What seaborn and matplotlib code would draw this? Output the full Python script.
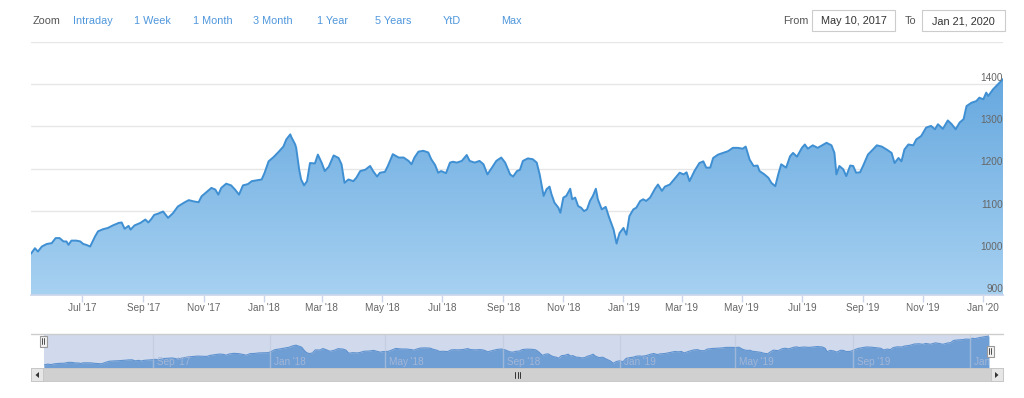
import numpy as np
import pandas as pd
import matplotlib
matplotlib.use("Agg")
import matplotlib.pyplot as plt
import matplotlib.dates as mdates
from matplotlib.patches import Rectangle, Polygon
from matplotlib.colors import LinearSegmentedColormap
import seaborn as sns

# ---------------- data ----------------
START = "2017-05-10"
END = "2020-01-21"

day_offsets = [
    0, 4, 7, 11, 16, 21, 25, 29, 33, 36, 38, 41, 46, 50, 53, 56, 60, 65, 68, 73,
    78, 83, 89, 92, 95, 99, 101, 105, 111, 116, 119, 122, 125, 129, 134, 139, 144, 149, 156, 160,
    165, 170, 173, 178, 183, 187, 190, 193, 198, 203, 207, 211, 215, 220, 224, 229, 234, 237, 241, 246,
    251, 256, 259, 263, 264, 268, 269, 272, 274, 277, 280, 283, 288, 291, 295, 298, 302, 307, 312, 315,
    318, 322, 327, 330, 334, 339, 344, 347, 351, 354, 359, 362, 367, 373, 378, 383, 386, 389, 393, 398,
    403, 406, 410, 413, 416, 421, 425, 428, 432, 437, 442, 445, 450, 455, 459, 463, 467, 472, 477, 481,
    486, 489, 493, 496, 499, 504, 509, 513, 516, 520, 523, 526, 528, 531, 535, 537, 540, 543, 547, 549,
    552, 555, 558, 561, 564, 567, 570, 573, 575, 579, 583, 586, 591, 594, 597, 601, 604, 607, 611, 614,
    618, 621, 624, 628, 633, 636, 640, 643, 648, 653, 658, 662, 665, 668, 673, 678, 682, 685, 689, 692,
    697, 702, 707, 712, 717, 722, 725, 729, 733, 737, 739, 744, 748, 751, 755, 758, 761, 766, 770, 773,
    777, 782, 785, 788, 793, 798, 804, 807, 812, 815, 817, 820, 824, 827, 831, 834, 837, 841, 844, 849,
    854, 858, 863, 868, 873, 876, 880, 883, 886, 890, 895, 898, 903, 908, 913, 917, 920, 925, 930, 934,
    938, 942, 946, 949, 954, 959, 962, 966, 969, 971, 976, 981, 986,
]
values = [
    998, 1011, 1003, 1015, 1021, 1023, 1035, 1035, 1027, 1027, 1019, 1029, 1029, 1027, 1021, 1019, 1015, 1039, 1051, 1056,
    1059, 1065, 1071, 1072, 1057, 1064, 1055, 1065, 1071, 1079, 1072, 1080, 1090, 1093, 1098, 1083, 1094, 1110, 1120, 1125,
    1122, 1120, 1134, 1144, 1154, 1150, 1138, 1154, 1164, 1160, 1150, 1138, 1160, 1163, 1170, 1172, 1174, 1190, 1217, 1227,
    1239, 1252, 1269, 1281, 1275, 1257, 1249, 1198, 1174, 1160, 1170, 1213, 1212, 1233, 1213, 1194, 1204, 1231, 1225, 1210,
    1166, 1174, 1170, 1178, 1194, 1197, 1206, 1194, 1181, 1190, 1192, 1206, 1234, 1226, 1226, 1218, 1210, 1226, 1240, 1242,
    1238, 1222, 1208, 1190, 1194, 1189, 1214, 1216, 1214, 1218, 1232, 1218, 1214, 1218, 1210, 1186, 1200, 1218, 1226, 1214,
    1186, 1181, 1194, 1197, 1218, 1224, 1222, 1214, 1186, 1135, 1151, 1157, 1139, 1119, 1107, 1095, 1131, 1135, 1152, 1127,
    1131, 1111, 1107, 1099, 1103, 1123, 1135, 1152, 1127, 1103, 1109, 1087, 1055, 1022, 1047, 1059, 1043, 1087, 1103, 1107,
    1123, 1127, 1123, 1131, 1152, 1162, 1147, 1157, 1162, 1176, 1190, 1186, 1191, 1170, 1194, 1213, 1217, 1202, 1202, 1225,
    1233, 1237, 1241, 1249, 1249, 1247, 1252, 1221, 1206, 1207, 1194, 1186, 1178, 1166, 1158, 1186, 1210, 1202, 1229, 1237,
    1228, 1249, 1257, 1247, 1255, 1249, 1257, 1261, 1255, 1237, 1186, 1206, 1198, 1182, 1207, 1206, 1190, 1191, 1206, 1233,
    1245, 1255, 1252, 1245, 1237, 1213, 1225, 1217, 1245, 1257, 1255, 1269, 1277, 1297, 1301, 1293, 1305, 1294, 1314, 1305,
    1293, 1309, 1317, 1348, 1356, 1360, 1368, 1364, 1380, 1372, 1388, 1400, 1412,
]

y_ticks = [900, 1000, 1100, 1200, 1300, 1400, 1500]
y_labels = ["900", "1000", "1100", "1200", "1300", "1400", ""]
x_tick_dates = ["2017-07-01", "2017-09-01", "2017-11-01", "2018-01-01", "2018-03-01", "2018-05-01",
                "2018-07-01", "2018-09-01", "2018-11-01", "2019-01-01", "2019-03-01", "2019-05-01",
                "2019-07-01", "2019-09-01", "2019-11-01", "2020-01-01"]
x_tick_labels = ["Jul '17", "Sep '17", "Nov '17", "Jan '18", "Mar '18", "May '18", "Jul '18", "Sep '18",
                 "Nov '18", "Jan '19", "Mar '19", "May '19", "Jul '19", "Sep '19", "Nov '19", "Jan '20"]
nav_tick_dates = ["2017-09-01", "2018-01-01", "2018-05-01", "2018-09-01",
                  "2019-01-01", "2019-05-01", "2019-09-01", "2020-01-01"]
nav_tick_labels = ["Sep '17", "Jan '18", "May '18", "Sep '18", "Jan '19", "May '19", "Sep '19", "Jan '20"]
zoom_buttons = ["Intraday", "1 Week", "1 Month", "3 Month", "1 Year", "5 Years", "YtD", "Max"]
from_text = "May 10, 2017"
to_text = "Jan 21, 2020"

# ---------------- style ----------------
sns.set_theme(style="white")
plt.rcParams["font.family"] = ["Liberation Sans", "DejaVu Sans"]

W, H = 1024, 398
LINE = "#3f8fd3"
TOP_C = "#66a8df"
BOT_C = "#a7d1f1"
AXIS_TXT = "#666666"

df = pd.DataFrame({
    "date": pd.to_datetime(START) + pd.to_timedelta(day_offsets, unit="D"),
    "value": values,
})
d0, d1 = pd.to_datetime(START), pd.to_datetime(END)

fig = plt.figure(figsize=(W / 100, H / 100), dpi=100)
fig.patch.set_facecolor("white")

# ---------------- main chart ----------------
ax = fig.add_axes([31 / W, 1 - 295 / H, 972 / W, 253 / H])
sns.lineplot(data=df, x="date", y="value", ax=ax, color=LINE, linewidth=1.4, zorder=4)
ax.set_xlim(d0, d1)
ax.set_ylim(900, 1500)

xn = mdates.date2num(df["date"])
poly_xy = np.column_stack([np.r_[xn[0], xn, xn[-1]], np.r_[900, df["value"].values, 900]])
poly = Polygon(poly_xy, closed=True, transform=ax.transData, facecolor="none", edgecolor="none")
ax.add_patch(poly)
cmap = LinearSegmentedColormap.from_list("g", [BOT_C, TOP_C])
grad = np.linspace(0, 1, 256).reshape(-1, 1)
im = ax.imshow(grad, extent=[xn[0], xn[-1], 900, 1415], origin="lower", aspect="auto",
               cmap=cmap, zorder=3)
im.set_clip_path(poly)
ax.set_xlim(d0, d1)
ax.set_ylim(900, 1500)

ax.set_yticks(y_ticks)
ax.set_yticklabels([])
ax.grid(axis="y", color="#e6e6e6", linewidth=1)
ax.grid(axis="x", visible=False)
ax.tick_params(axis="y", length=0)
ax.set_xticks(pd.to_datetime(x_tick_dates))
ax.set_xticklabels(x_tick_labels)
ax.tick_params(axis="x", length=5, width=1, color="#ccd6eb", labelsize=7.2,
               labelcolor=AXIS_TXT, pad=1, bottom=True)
for s in ["top", "left", "right"]:
    ax.spines[s].set_visible(False)
ax.spines["bottom"].set_color("#ccd6eb")
ax.spines["bottom"].set_zorder(5)
ax.set_xlabel("")
ax.set_ylabel("")
for v, lab in zip(y_ticks, y_labels):
    if lab:
        ax.annotate(lab, xy=(1, v), xycoords=("axes fraction", "data"),
                    xytext=(0, 2.2), textcoords="offset points", ha="right", va="baseline",
                    color=AXIS_TXT, fontsize=7.2, zorder=6)

# ---------------- navigator ----------------
axn = fig.add_axes([44 / W, 1 - 368 / H, 945 / W, 34 / H])
axn.set_facecolor("white")
axn.fill_between(df["date"], df["value"], 955, color="#74aade", linewidth=0, zorder=2)
sns.lineplot(data=df, x="date", y="value", ax=axn, color="#5c98d6", linewidth=0.8, zorder=3)
for dt in pd.to_datetime(nav_tick_dates):
    axn.axvline(dt, color="#e6e6e6", linewidth=1, alpha=0.6, zorder=3.5)
axn.axvspan(d0, d1, color=(102 / 255, 133 / 255, 194 / 255), alpha=0.3, linewidth=0, zorder=4)
for dt, lab in zip(pd.to_datetime(nav_tick_dates), nav_tick_labels):
    axn.annotate(lab, xy=(mdates.date2num(dt), 0.18), xycoords=("data", "axes fraction"),
                 xytext=(3, 0), textcoords="offset points", ha="left", va="center",
                 color="#a3b6d6", fontsize=7.2, zorder=5, annotation_clip=False, clip_on=True)
axn.set_xlim(d0, d1)
axn.set_ylim(955, 1440)
axn.set_xticks([])
axn.set_yticks([])
axn.set_xlabel("")
axn.set_ylabel("")
for s in axn.spines.values():
    s.set_visible(False)

# ---------------- overlay: header, handles, scrollbar ----------------
ov = fig.add_axes([0, 0, 1, 1], zorder=10)
ov.set_xlim(0, W)
ov.set_ylim(H, 0)
ov.axis("off")
ov.patch.set_alpha(0)

ov.text(33, 21, "Zoom", color="#555555", fontsize=7.8, ha="left", va="center")
for lab, bx in zip(zoom_buttons, [73, 134, 193, 253, 317, 375, 443, 501]):
    ov.text(bx, 21, lab, color="#4f97dc", fontsize=7.8, ha="left", va="center")

ov.text(783, 21, "From", color="#555555", fontsize=7.8, ha="left", va="center")
ov.add_patch(Rectangle((812, 10), 83, 21, facecolor="white", edgecolor="#cccccc", linewidth=0.8))
ov.text(853.5, 21, from_text, color="#333333", fontsize=7.8, ha="center", va="center")
ov.text(905, 21, "To", color="#555555", fontsize=7.8, ha="left", va="center")
ov.add_patch(Rectangle((922, 10), 83, 21, facecolor="white", edgecolor="#cccccc", linewidth=0.8))
ov.text(963.5, 21, to_text, color="#333333", fontsize=7.8, ha="center", va="center")

# navigator outline
ov.plot([31, 1003], [334, 334], color="#cccccc", linewidth=1)

# handles
for hx, hy in [(43, 341), (990, 351)]:
    ov.add_patch(Rectangle((hx - 3.5, hy - 5.5), 7, 11, facecolor="#f2f2f2",
                           edgecolor="#999999", linewidth=0.8, zorder=5))
    ov.plot([hx - 1, hx - 1], [hy - 3, hy + 3], color="#333333", linewidth=0.6, zorder=6)
    ov.plot([hx + 1, hx + 1], [hy - 3, hy + 3], color="#333333", linewidth=0.6, zorder=6)

# scrollbar
ov.add_patch(Rectangle((31, 368), 972, 13, facecolor="#d0d0d0", edgecolor="#c4c4c4", linewidth=0.6))
ov.add_patch(Rectangle((31, 368), 12, 13, facecolor="#e6e6e6", edgecolor="#c4c4c4", linewidth=0.6))
ov.add_patch(Rectangle((991, 368), 12, 13, facecolor="#e6e6e6", edgecolor="#c4c4c4", linewidth=0.6))
ov.add_patch(Polygon([[39, 372], [39, 378], [35.5, 375]], closed=True, facecolor="#333333", edgecolor="none"))
ov.add_patch(Polygon([[995, 372], [995, 378], [998.5, 375]], closed=True, facecolor="#333333", edgecolor="none"))
for gx in [515, 517.5, 520]:
    ov.plot([gx, gx], [372, 377.5], color="#333333", linewidth=0.7)

fig.savefig("out.png", dpi=100, facecolor="white")
